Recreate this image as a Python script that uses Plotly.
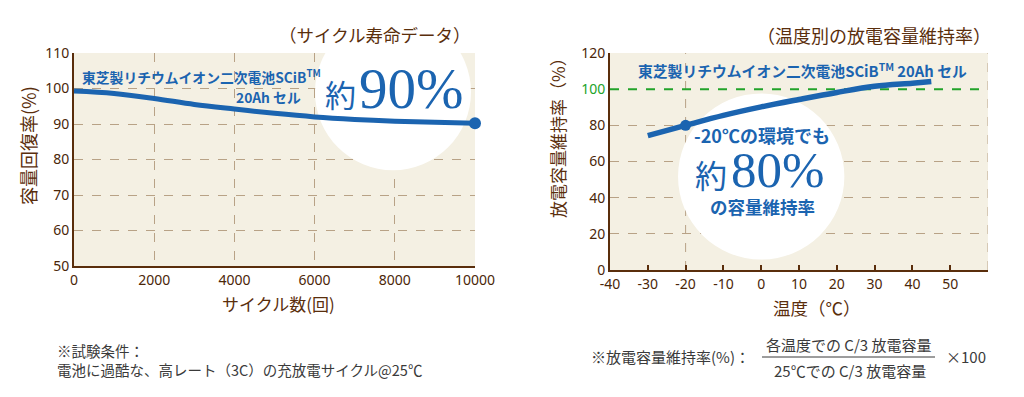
import plotly.graph_objects as go

# ---------------- data ----------------
cycles = [0, 1000, 2000, 3000, 4000, 5000, 6000, 7000, 8000, 9000, 10000]
capacity_recovery = [99.3, 98.6, 97.2, 95.5, 94.2, 93.0, 92.0, 91.3, 90.8, 90.5, 90.2]
cycle_marker_x = [10000]
cycle_marker_y = [90.2]

temps = [-30, -20, -10, 0, 10, 20, 30, 40, 45]
retention = [74.3, 80.0, 85.5, 90.2, 94.3, 98.2, 101.6, 103.3, 104.2]
temp_marker_x = [-20]
temp_marker_y = [80.0]

x1_ticks = [0, 2000, 4000, 6000, 8000, 10000]
y1_ticks = [50, 60, 70, 80, 90, 100, 110]
x2_ticks = [-40, -30, -20, -10, 0, 10, 20, 30, 40, 50]
y2_ticks = [0, 20, 40, 60, 80, 100, 120]
ref_level = 100

# ---------------- style ----------------
W, H = 1024, 397
BLUE = "#1b64b0"
BROWN = "#5a2e0c"
TICK = "#4a2608"
GRID = "#b8a286"
GREEN = "#22a32a"
BG = "#f4f0e3"
GRAY = "#3a3a3a"
JP = "Noto Sans CJK JP"


def px(x):
    return x / W


def py(y):
    return 1 - y / H


fig = go.Figure()

fig.add_trace(go.Scatter(x=cycles, y=capacity_recovery, mode="lines",
                         line=dict(color=BLUE, width=5, shape="spline", smoothing=1.0),
                         xaxis="x", yaxis="y", hoverinfo="skip"))
fig.add_trace(go.Scatter(x=cycle_marker_x, y=cycle_marker_y, mode="markers",
                         marker=dict(color=BLUE, size=12), xaxis="x", yaxis="y",
                         cliponaxis=False))

fig.add_trace(go.Scatter(x=temps, y=retention, mode="lines",
                         line=dict(color=BLUE, width=5.5, shape="spline", smoothing=1.0),
                         xaxis="x2", yaxis="y2", hoverinfo="skip"))
fig.add_trace(go.Scatter(x=temp_marker_x, y=temp_marker_y, mode="markers",
                         marker=dict(color=BLUE, size=11), xaxis="x2", yaxis="y2"))

x1_text = [str(v) for v in x1_ticks]
y1_text = [str(v) for v in y1_ticks]
x2_text = [str(v) for v in x2_ticks]
y2_text = [f'<span style="color:{GREEN}">{v}</span>' if v == ref_level else str(v) for v in y2_ticks]

axis_common = dict(showline=True, linecolor=BROWN, linewidth=2, zeroline=False,
                   automargin=False,
                   tickfont=dict(family="Noto Sans", size=14, color=TICK),
                   gridcolor=GRID, griddash="dash", gridwidth=1, fixedrange=True)

fig.update_layout(
    width=W, height=H, margin=dict(l=0, r=0, t=0, b=0),
    paper_bgcolor="white", plot_bgcolor=BG, showlegend=False,
    font=dict(family=JP, color=BROWN),
    xaxis=dict(domain=[px(74), px(475)], range=[0, 10000], tickvals=x1_ticks, ticktext=x1_text,
               showgrid=True, anchor="y", ticks="", **axis_common),
    yaxis=dict(domain=[py(266), py(53)], range=[50, 110], tickvals=y1_ticks, ticktext=y1_text,
               showgrid=True, anchor="x", ticks="", **axis_common),
    xaxis2=dict(domain=[px(610), px(988)], range=[-40, 60], tickvals=x2_ticks, ticktext=x2_text,
                showgrid=False, anchor="y2", ticks="inside", ticklen=5, tickwidth=2,
                tickcolor=BROWN, **axis_common),
    yaxis2=dict(domain=[py(270), py(53)], range=[0, 120], tickvals=y2_ticks,
                ticktext=y2_text, showgrid=True, anchor="x2", ticks="", **axis_common),
)

shapes = [
    # white highlight circles (above grid, below lines)
    dict(type="circle", xref="x", yref="y", x0=6010, x1=9900, y0=77.0, y1=121.0,
         fillcolor="white", line=dict(width=0), layer="between"),
    dict(type="circle", xref="x2", yref="y2", x0=-22, x1=22, y0=5.8, y1=97.6,
         fillcolor="white", line=dict(width=0), layer="between"),
    # 100% reference line
    dict(type="line", xref="x2", yref="y2", x0=-40, x1=60, y0=ref_level, y1=ref_level,
         line=dict(color=GREEN, width=2, dash="dash"), layer="between"),
    # vertical dashed guides in right chart
    dict(type="line", xref="x2", yref="y2", x0=-20, x1=-20, y0=0, y1=120,
         line=dict(color=GRID, width=1, dash="dash"), layer="below"),
    dict(type="line", xref="x2", yref="y2", x0=60, x1=60, y0=0, y1=120,
         line=dict(color=GRID, width=1, dash="dash"), layer="below"),
    # fraction bar in footnote
    dict(type="line", xref="paper", yref="paper", x0=px(762), x1=px(935), y0=py(357), y1=py(357),
         line=dict(color=GRAY, width=1)),
]
fig.update_layout(shapes=shapes)


def ann(text, x, y, size, color=BROWN, xanchor="center", family=JP, angle=0, bold=False, align="center"):
    if bold:
        text = f"<b>{text}</b>"
    fig.add_annotation(text=text, x=px(x), y=py(y), xref="paper", yref="paper",
                       xanchor=xanchor, yanchor="middle", showarrow=False, align=align,
                       textangle=angle, font=dict(size=size, color=color, family=family))


# titles
ann("（サイクル寿命データ）", 473, 35, 17.5, xanchor="right")
ann("（温度別の放電容量維持率）", 993, 35, 18, xanchor="right")
# axis titles
ann("サイクル数(回)", 278, 303, 17)
ann("温度（℃）", 817, 307, 17.5)
ann("容量回復率(%)", 28, 146, 18, angle=-90)
ann("放電容量維持率（%）", 557, 134, 17, angle=-90)

# blue labels
ann("東芝製リチウムイオン二次電池SCiB<sup>TM</sup>", 80, 76, 13.8, color=BLUE, xanchor="left", bold=True)
ann("20Ah セル", 303, 97, 13.8, color=BLUE, xanchor="right", bold=True)
ann("東芝製リチウムイオン二次電池SCiB<sup>TM</sup> 20Ah セル", 802, 70, 14.8, color=BLUE, bold=True)

ann("約", 340, 94, 31, color=BLUE)
ann("90%", 357, 88, 57, color=BLUE, xanchor="left", family="Liberation Serif")

ann("-20℃の環境でも", 762, 135, 18, color=BLUE, bold=True)
ann("約", 711, 174, 32, color=BLUE)
ann("80%", 729, 170, 51, color=BLUE, xanchor="left", family="Liberation Serif")
ann("の容量維持率", 762, 206, 17.5, color=BLUE, bold=True)

# footnotes
ann("※試験条件：<br>電池に過酷な、高レート（3C）の充放電サイクル@25℃", 55, 360, 14.5,
    color=GRAY, xanchor="left", align="left")
ann("※放電容量維持率(%)：", 589, 356, 15, color=GRAY, xanchor="left")
ann("各温度での C/3 放電容量", 849, 344, 15, color=GRAY)
ann("25℃での C/3 放電容量", 850, 370, 15, color=GRAY)
ann("×100", 944, 356, 15, color=GRAY, xanchor="left")

fig.write_html("out.html", config={"displayModeBar": False, "staticPlot": True},
               post_script="document.body.style.margin='0px';")
